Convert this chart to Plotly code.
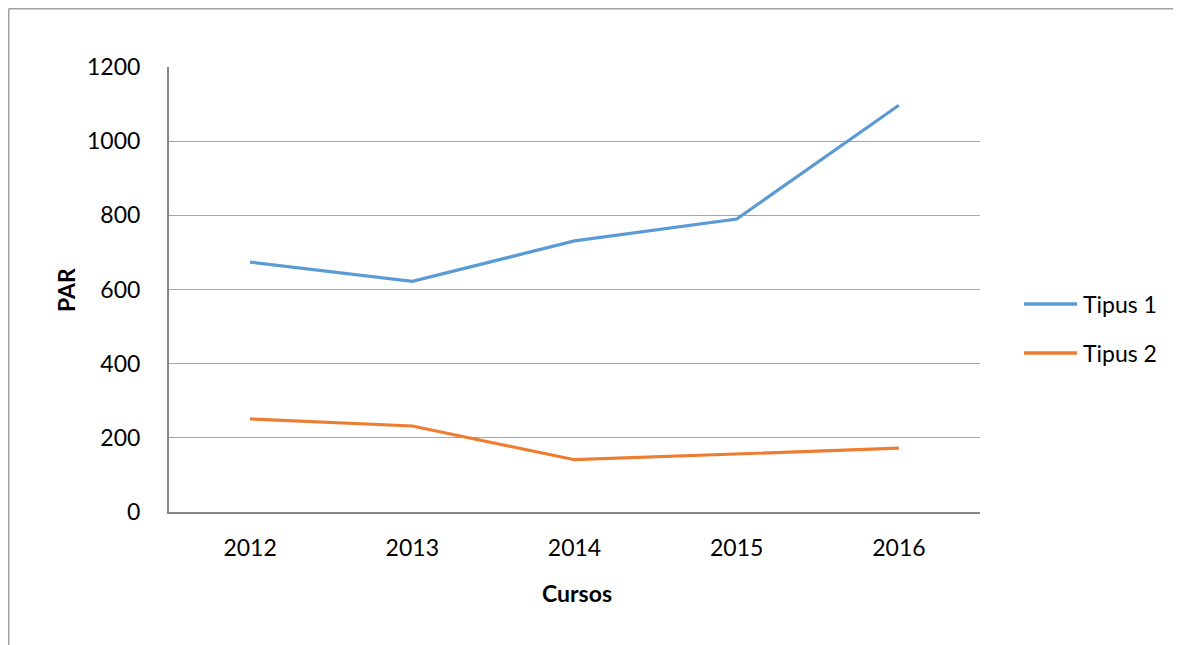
import plotly.graph_objects as go

years = ["2012", "2013", "2014", "2015", "2016"]
tipus1 = [674, 622, 731, 790, 1097]
tipus2 = [251, 232, 141, 156, 172]
series_names = ["Tipus 1", "Tipus 2"]
colors = ["#5B9BD5", "#ED7D31"]
y_ticks = [0, 200, 400, 600, 800, 1000, 1200]

OFF = 8  # page body margin
W, H = 1181 - OFF, 645 - OFF
L, R, T, B = 169, 980, 67, 512  # plot area in page pixels

FONT = "Lato, 'Open Sans', sans-serif"
FS = 23


def px_x(p):
    return (p - L) / (R - L)


def px_y(p):
    return (B - p) / (B - T)


fig = go.Figure()
for name, vals, col in zip(series_names, [tipus1, tipus2], colors):
    fig.add_trace(go.Scatter(x=years, y=vals, mode="lines", name=name,
                             line=dict(color=col, width=3.2), showlegend=False))

annotations = [
    dict(text="<b>Cursos</b>", xref="paper", yref="paper",
         x=px_x(577), y=px_y(593), showarrow=False,
         xanchor="center", yanchor="middle", font=dict(size=FS)),
    dict(text="<b>PAR</b>", xref="paper", yref="paper",
         x=px_x(66), y=px_y(290), showarrow=False, textangle=-90,
         xanchor="center", yanchor="middle", font=dict(size=FS)),
]
shapes = [
    dict(type="line", xref="paper", yref="paper",
         x0=px_x(8.7), x1=px_x(8.7), y0=px_y(8.7), y1=px_y(700),
         line=dict(color="#A0A0A0", width=1.5)),
    dict(type="line", xref="paper", yref="paper",
         x0=px_x(8.7), x1=px_x(1250), y0=px_y(8.7), y1=px_y(8.7),
         line=dict(color="#A0A0A0", width=1.5)),
]

# legend drawn manually
leg_y = [304, 353]
for name, col, ly in zip(series_names, colors, leg_y):
    shapes.append(dict(type="line", xref="paper", yref="paper",
                       x0=px_x(1024), x1=px_x(1077), y0=px_y(ly), y1=px_y(ly),
                       line=dict(color=col, width=3.5)))
    annotations.append(dict(text=name, xref="paper", yref="paper",
                            x=px_x(1081), y=px_y(ly), showarrow=False,
                            xanchor="left", yanchor="middle",
                            font=dict(size=FS)))

fig.update_layout(
    width=W, height=H,
    margin=dict(l=L - OFF, r=W - (R - OFF), t=T - OFF, b=H - (B - OFF), pad=0),
    paper_bgcolor="white", plot_bgcolor="white",
    font=dict(family=FONT, size=FS, color="#000000"),
    showlegend=False,
    xaxis=dict(type="category", range=[-0.5, 4.5], showgrid=False,
               showline=True, linecolor="#868686", linewidth=2,
               ticks="", ticklabelstandoff=14, zeroline=False),
    yaxis=dict(range=[0, 1200], tickvals=y_ticks, showgrid=True,
               gridcolor="#A6A6A6", gridwidth=1.3,
               showline=True, linecolor="#868686", linewidth=2,
               ticks="", ticklabelstandoff=22, zeroline=False),
    annotations=annotations,
    shapes=shapes,
)

fig.write_html("out.html")
